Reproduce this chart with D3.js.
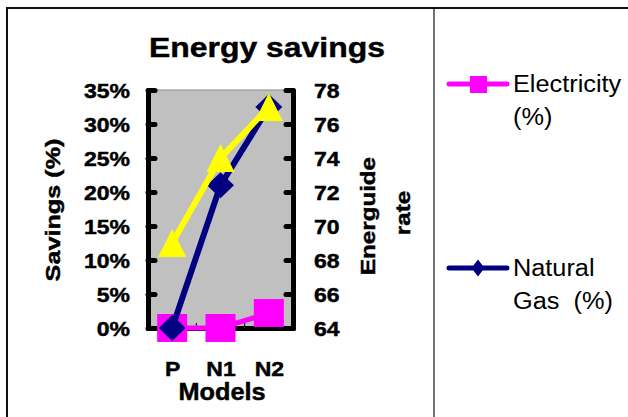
<!DOCTYPE html>
<html>
<head>
<meta charset="utf-8">
<script src="https://cdn.jsdelivr.net/npm/d3@7"></script>
<style>
  html, body { margin: 0; padding: 0; background: #fff; }
  svg { display: block; }
  text { font-family: "Liberation Sans", Arial, sans-serif; }
</style>
</head>
<body>
<svg id="chart" width="628" height="417"></svg>
<script>
// Models compared
const categories = ["P", "N1", "N2"];
// Savings, as fractions (left axis)
const electricity = [0.0, 0.0, 0.022];
const naturalGas = [0.0, 0.21, 0.325];
// EnerGuide rating (right axis)
const energuide = [69, 74, 77];
// Axis ticks
const leftTicks = [0, 0.05, 0.10, 0.15, 0.20, 0.25, 0.30, 0.35];
const rightTicks = [64, 66, 68, 70, 72, 74, 76, 78];

const svg = d3.select("#chart");

// Plot-area bounds
const plot = { left: 148, right: 293, top: 90, bottom: 328 };

const x = d3.scalePoint().domain(categories).range([plot.left, plot.right]).padding(0.5);
const xBand = d3.scaleBand().domain(categories).range([plot.left, plot.right]);
const yL = d3.scaleLinear().domain([0, 0.35]).range([plot.bottom, plot.top]);
const yR = d3.scaleLinear().domain([64, 78]).range([plot.bottom, plot.top]);

// Stretch text along its own direction
function widen(sel, k) {
  sel.each(function () {
    const w = this.getComputedTextLength();
    d3.select(this).attr("textLength", w * k).attr("lengthAdjust", "spacingAndGlyphs");
  });
}
// Heavier bold text
function heavy(sel) {
  sel.attr("stroke", "#000").attr("stroke-width", 0.45).attr("paint-order", "fill");
}

// Outer frame and legend divider
svg.append("rect")
  .attr("x", 7).attr("y", 8).attr("width", 660).attr("height", 440)
  .attr("fill", "none").attr("stroke", "#111").attr("stroke-width", 2);
svg.append("line")
  .attr("x1", 434).attr("x2", 434).attr("y1", 9).attr("y2", 417)
  .attr("stroke", "#444").attr("stroke-width", 1.5);

// Title
svg.append("text")
  .attr("x", 267).attr("y", 57)
  .attr("text-anchor", "middle")
  .attr("font-size", 28).attr("font-weight", "bold")
  .text("Energy savings")
  .call(widen, 1.14)
  .call(heavy);

// Plot background
svg.append("rect")
  .attr("x", plot.left).attr("y", plot.top)
  .attr("width", plot.right - plot.left).attr("height", plot.bottom - plot.top)
  .attr("fill", "#c0c0c0").attr("stroke", "#888").attr("stroke-width", 1);

// Thin category boundary marks on the bottom axis
svg.append("g").selectAll("line")
  .data(categories.slice(1))
  .join("line")
  .attr("x1", d => xBand(d)).attr("x2", d => xBand(d))
  .attr("y1", plot.bottom - 5).attr("y2", plot.bottom)
  .attr("stroke", "#000").attr("stroke-width", 1);

// Left axis
const gL = svg.append("g").attr("transform", `translate(${plot.left},0)`)
  .call(d3.axisLeft(yL).tickValues(leftTicks).tickFormat(d3.format(".0%"))
    .tickSize(-7).tickSizeOuter(0).tickPadding(18));
// Right axis
const gR = svg.append("g").attr("transform", `translate(${plot.right},0)`)
  .call(d3.axisRight(yR).tickValues(rightTicks).tickFormat(d3.format("d"))
    .tickSize(-7).tickSizeOuter(0).tickPadding(21));
// Bottom axis
const gB = svg.append("g").attr("transform", `translate(0,${plot.bottom})`)
  .call(d3.axisBottom(x).tickSize(0).tickPadding(34));

[gL, gR, gB].forEach(g => {
  g.select(".domain").attr("stroke", "#000").attr("stroke-width", 5)
    .attr("stroke-linecap", "round").attr("stroke-linejoin", "round");
  g.selectAll(".tick line").attr("stroke", "#000").attr("stroke-width", 5)
    .attr("stroke-linecap", "round");
  g.selectAll(".tick text")
    .attr("fill", "#000")
    .attr("font-family", "'Liberation Sans', Arial, sans-serif")
    .attr("font-size", 20).attr("font-weight", "bold")
    .call(widen, 1.15)
    .call(heavy);
});
gL.selectAll(".tick text").attr("dy", "0.36em");
gR.selectAll(".tick text").attr("dy", "0.36em");

// Axis titles
svg.append("text")
  .attr("transform", "translate(60,210) rotate(-90)")
  .attr("text-anchor", "middle")
  .attr("font-size", 21).attr("font-weight", "bold")
  .text("Savings (%)")
  .call(widen, 1.2).call(heavy);
svg.append("text")
  .attr("transform", "translate(375,216) rotate(-90)")
  .attr("text-anchor", "middle")
  .attr("font-size", 21).attr("font-weight", "bold")
  .text("Energuide")
  .call(widen, 1.15).call(heavy);
svg.append("text")
  .attr("transform", "translate(410,213) rotate(-90)")
  .attr("text-anchor", "middle")
  .attr("font-size", 21).attr("font-weight", "bold")
  .text("rate")
  .call(widen, 1.15).call(heavy);
svg.append("text")
  .attr("x", 222).attr("y", 400)
  .attr("text-anchor", "middle")
  .attr("font-size", 23).attr("font-weight", "bold")
  .text("Models")
  .call(widen, 1.1).call(heavy);

// Marker shapes
const diamond = (w, h) => `M0,${-h / 2}L${w / 2},0L0,${h / 2}L${-w / 2},0Z`;
const triangle = (w, h) => `M0,${-h / 2}L${w / 2},${h / 2}L${-w / 2},${h / 2}Z`;

// Electricity series
const elecData = categories.map((c, i) => ({ c, v: electricity[i] }));
svg.append("path").datum(elecData)
  .attr("d", d3.line().x(d => x(d.c)).y(d => yL(d.v)))
  .attr("fill", "none").attr("stroke", "#ff00ff").attr("stroke-width", 5);
svg.append("g").selectAll("rect").data(elecData).join("rect")
  .attr("x", d => x(d.c) - 15).attr("y", d => yL(d.v) - 14)
  .attr("width", 30).attr("height", 28)
  .attr("fill", "#ff00ff");

// Natural gas series
const gasData = categories.map((c, i) => ({ c, v: naturalGas[i] }));
svg.append("path").datum(gasData)
  .attr("d", d3.line().x(d => x(d.c)).y(d => yL(d.v)))
  .attr("fill", "none").attr("stroke", "#000080").attr("stroke-width", 6);
svg.append("g").selectAll("path").data(gasData).join("path")
  .attr("transform", d => `translate(${x(d.c)},${yL(d.v)})`)
  .attr("d", diamond(27, 26))
  .attr("fill", "#000080");

// EnerGuide series
const egData = categories.map((c, i) => ({ c, v: energuide[i] }));
svg.append("path").datum(egData)
  .attr("d", d3.line().x(d => x(d.c)).y(d => yR(d.v)))
  .attr("fill", "none").attr("stroke", "#ffff00").attr("stroke-width", 6);
svg.append("g").selectAll("path").data(egData).join("path")
  .attr("transform", d => `translate(${x(d.c)},${yR(d.v)})`)
  .attr("d", triangle(28, 28))
  .attr("fill", "#ffff00");

// Legend
const legend = [
  { name: ["Electricity", "(%)"], color: "#ff00ff", y: 84, shape: "square" },
  { name: ["Natural", "Gas  (%)"], color: "#000080", y: 268, shape: "diamond" }
];
const lg = svg.append("g").selectAll("g").data(legend).join("g")
  .attr("transform", d => `translate(0,${d.y})`);
lg.append("line")
  .attr("x1", 449).attr("x2", 507).attr("y1", 0).attr("y2", 0)
  .attr("stroke", d => d.color).attr("stroke-width", 5).attr("stroke-linecap", "round");
lg.filter(d => d.shape === "square").append("rect")
  .attr("x", 470).attr("y", -8).attr("width", 17).attr("height", 17)
  .attr("fill", d => d.color);
lg.filter(d => d.shape === "diamond").append("path")
  .attr("transform", "translate(478,0)")
  .attr("d", diamond(13, 17))
  .attr("fill", d => d.color);
lg.append("g").selectAll("text").data(d => d.name).join("text")
  .attr("x", 513).attr("y", (d, i) => 8 + i * 33)
  .attr("font-size", 23)
  .attr("xml:space", "preserve")
  .style("white-space", "pre")
  .text(d => d)
  .call(widen, 1.1);
</script>
</body>
</html>
